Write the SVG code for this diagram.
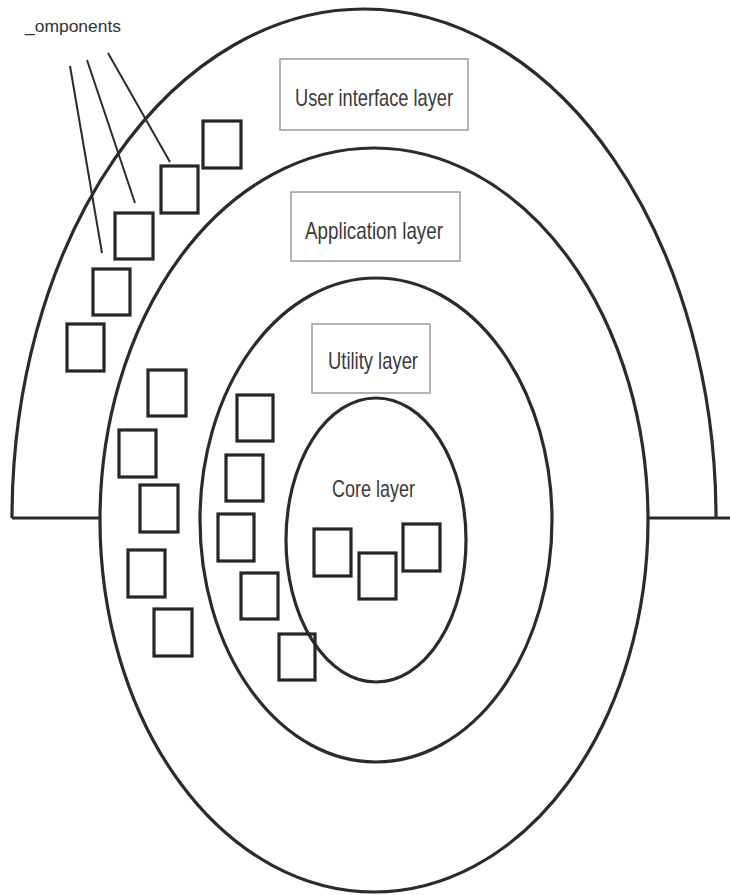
<svg xmlns="http://www.w3.org/2000/svg" width="730" height="895" viewBox="0 0 730 895">
  <style>
    .ring { fill: none; stroke: #2b2b2b; stroke-width: 3.2; }
    .comp { fill: none; stroke: #262626; stroke-width: 3.2; }
    .label-box { fill: #ffffff; stroke: #9a9a9a; stroke-width: 1.5; }
    .label { font-family: "Liberation Sans", "DejaVu Sans", sans-serif; font-size: 24px; fill: #3a3a3a; }
    .pointer { stroke: #2b2b2b; stroke-width: 2; fill: none; }
    .caption { font-family: "Liberation Sans", "DejaVu Sans", sans-serif; font-size: 17px; fill: #333333; }
  </style>
  <rect width="730" height="895" fill="#ffffff"/>

  <!-- user interface layer: half ring with base line -->
  <g id="ui-layer">
    <path class="ring" d="M 12 518 A 352 509 0 0 1 716 518"/>
    <path class="ring" d="M 12 518 H 100 M 648 518 H 730"/>
    <rect class="label-box" x="280" y="59" width="188" height="71"/>
    <text class="label" x="295" y="106" textLength="158" lengthAdjust="spacingAndGlyphs">User interface layer</text>
  </g>

  <!-- application layer -->
  <g id="application-layer">
    <ellipse class="ring" cx="374" cy="520" rx="274" ry="372"/>
    <rect class="label-box" x="291" y="192" width="169" height="69"/>
    <text class="label" x="305" y="239" textLength="138" lengthAdjust="spacingAndGlyphs">Application layer</text>
  </g>

  <!-- utility layer -->
  <g id="utility-layer">
    <ellipse class="ring" cx="376" cy="520" rx="176" ry="242"/>
    <rect class="label-box" x="312" y="324" width="118" height="69"/>
    <text class="label" x="328" y="369" textLength="90" lengthAdjust="spacingAndGlyphs">Utility layer</text>
  </g>

  <!-- core layer -->
  <g id="core-layer">
    <ellipse class="ring" cx="376" cy="540" rx="90" ry="142" stroke-width="2.6"/>
    <text class="label" x="332" y="497" textLength="83" lengthAdjust="spacingAndGlyphs">Core layer</text>
  </g>

  <!-- components in each layer -->
  <g id="ui-components">
    <rect class="comp" x="203" y="121" width="38" height="47"/>
    <rect class="comp" x="161" y="166" width="37" height="47"/>
    <rect class="comp" x="115" y="213" width="38" height="46"/>
    <rect class="comp" x="93" y="269" width="37" height="46"/>
    <rect class="comp" x="67" y="324" width="37" height="47"/>
  </g>
  <g id="application-components">
    <rect class="comp" x="148" y="370" width="38" height="46"/>
    <rect class="comp" x="119" y="430" width="37" height="47"/>
    <rect class="comp" x="140" y="485" width="38" height="47"/>
    <rect class="comp" x="128" y="550" width="37" height="47"/>
    <rect class="comp" x="154" y="609" width="38" height="47"/>
  </g>
  <g id="utility-components">
    <rect class="comp" x="237" y="395" width="36" height="46"/>
    <rect class="comp" x="226" y="455" width="37" height="46"/>
    <rect class="comp" x="218" y="514" width="36" height="47"/>
    <rect class="comp" x="241" y="573" width="37" height="46"/>
    <rect class="comp" x="279" y="634" width="36" height="46"/>
  </g>
  <g id="core-components">
    <rect class="comp" x="314" y="529" width="37" height="47"/>
    <rect class="comp" x="359" y="553" width="37" height="46"/>
    <rect class="comp" x="403" y="524" width="37" height="47"/>
  </g>

  <!-- caption and its pointer lines -->
  <g id="components-caption">
    <text class="caption" x="25" y="32" textLength="96" lengthAdjust="spacingAndGlyphs">_omponents</text>
  </g>
  <g id="connectors">
    <line class="pointer" x1="70" y1="66" x2="102" y2="253"/>
    <line class="pointer" x1="87" y1="60" x2="135" y2="203"/>
    <line class="pointer" x1="108" y1="53" x2="170" y2="162"/>
  </g>
</svg>
